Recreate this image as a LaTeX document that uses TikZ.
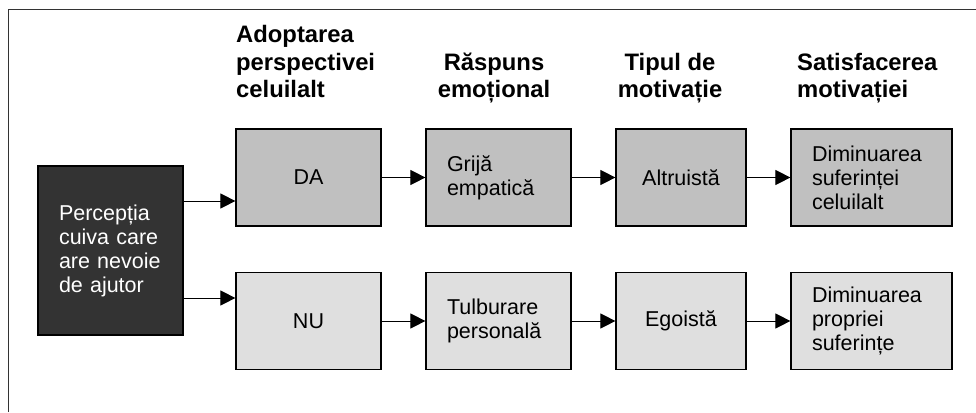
\documentclass[tikz,border=0pt]{standalone}
\usepackage{fontspec}
\setmainfont{Liberation Sans}
\usepackage{xcolor}
\usetikzlibrary{arrows.meta}
\definecolor{griinchis}{RGB}{51,51,51}
\definecolor{grimediu}{RGB}{192,192,192}
\definecolor{grideschis}{RGB}{223,223,223}
\tikzset{
    cutie/.style={
        draw,
        line width=1.2pt,
        inner xsep=21pt,
        inner ysep=0pt,
        minimum height=97pt,
        font=\fontsize{21.5}{24}\selectfont
    },
    antet/.style={
        inner sep=0pt,
        font=\fontsize{23.8}{27.5}\selectfont\bfseries
    },
    sageata/.style={
        draw,
        line width=1pt,
        -{Triangle[length=15pt, width=15pt]}
    }
}

\begin{document}
\begin{tikzpicture}[x=1pt, y=-1pt]
  \useasboundingbox (0,0) rectangle (976,412);

  % Frame (only left and top edges visible)
  \draw[line width=1pt, draw=black!80] (8,412) -- (8,10) -- (976,10);

  % Column headings (anchored at the baseline of their last line)
  \node[antet, anchor=base west, align=left] (h1) at (236,97.5) {Adoptarea\\perspectivei\\celuilalt};
  \node[antet, anchor=base, align=center] (h2) at (494,97.5) {Răspuns\\emoțional};
  \node[antet, anchor=base, align=center] (h3) at (670,97.5) {Tipul de\\motivație};
  \node[antet, anchor=base west, align=left] (h4) at (797,97.5) {Satisfacerea\\motivației};

  % Starting box
  \node[cutie, fill=griinchis, text=white, text width=103pt, align=left, minimum height=169pt] (percep) at (110.5,250.5) {Percepția\\cuiva care\\are nevoie\\de ajutor};

  % Upper row (DA)
  \node[cutie, fill=grimediu, text width=103pt, align=center] (da) at (308.5,177.5) {DA};
  \node[cutie, fill=grimediu, text width=103pt, align=left] (grija) at (498.5,177.5) {Grijă\\empatică};
  \node[cutie, fill=grimediu, text width=88pt, align=center] (altru) at (681,177.5) {Altruistă};
  \node[cutie, fill=grimediu, text width=119pt, align=left] (dimcel) at (871.5,177.5) {Diminuarea\\suferinței\\celuilalt};

  % Lower row (NU)
  \node[cutie, fill=grideschis, text width=103pt, align=center] (nu) at (308.5,321) {NU};
  \node[cutie, fill=grideschis, text width=103pt, align=left] (tulb) at (498.5,321) {Tulburare\\personală};
  \node[cutie, fill=grideschis, text width=88pt, align=center] (ego) at (681,321) {Egoistă};
  \node[cutie, fill=grideschis, text width=119pt, align=left] (dimpr) at (871.5,321) {Diminuarea\\propriei\\suferințe};

  % Arrows out of the starting box
  \coordinate (p1) at (percep.east |- 0,201);
  \coordinate (p2) at (percep.east |- 0,298);
  \draw[sageata] (p1) -- (p1 -| da.west);
  \draw[sageata] (p2) -- (p2 -| nu.west);

  % Arrows along the rows
  \draw[sageata] (da) -- (grija);
  \draw[sageata] (grija) -- (altru);
  \draw[sageata] (altru) -- (dimcel);
  \draw[sageata] (nu) -- (tulb);
  \draw[sageata] (tulb) -- (ego);
  \draw[sageata] (ego) -- (dimpr);
\end{tikzpicture}
\end{document}
